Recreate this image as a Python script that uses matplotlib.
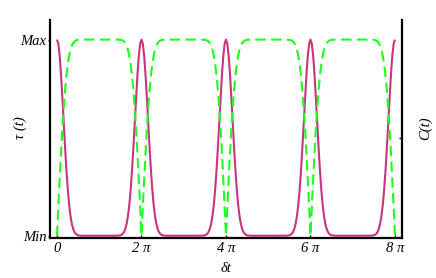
import numpy as np
import matplotlib
matplotlib.use("Agg")
import matplotlib.pyplot as plt

# Half-period profile (offset from a peak of tau, in radians)
offset = [0.0, 0.1, 0.2, 0.3, 0.4, 0.5, 0.6, 0.7, 0.8, 0.9, 1.0, 1.1, 1.2, 1.3,
          1.4, 1.5, 1.6, 1.8, 2.0, np.pi]
tau_profile = [1.0, 0.9785, 0.9166, 0.8216, 0.7045, 0.5772, 0.4516, 0.3368, 0.2391,
               0.1613, 0.1031, 0.0623, 0.0354, 0.0189, 0.0094, 0.0044, 0.0019,
               0.0003, 0.0, 0.0]
c_profile = [0.0, 0.1466, 0.2888, 0.4224, 0.5436, 0.6502, 0.7405, 0.8144, 0.8723,
             0.9158, 0.9471, 0.9684, 0.9821, 0.9905, 0.9953, 0.9978, 0.9990,
             0.9999, 1.0, 1.0]

# peak positions (multiples of 2 pi)
peaks = [0, 2 * np.pi, 4 * np.pi, 6 * np.pi, 8 * np.pi]
xtick_labels = ["0", "2 \u03c0", "4 \u03c0", "6 \u03c0", "8 \u03c0"]
ytick_values = [0, 1]
ytick_labels = ["Min", "Max"]

# build series over [0, 8 pi] by mirroring the read profile around each peak
off = np.array(offset)
tp = np.array(tau_profile)
cp = np.array(c_profile)
xs, ts, cs = [], [], []
for a, b in zip(peaks[:-1], peaks[1:]):
    xs.append(a + off); ts.append(tp); cs.append(cp)
    xs.append(b - off[::-1][1:]); ts.append(tp[::-1][1:]); cs.append(cp[::-1][1:])
x = np.concatenate(xs)
tau = np.concatenate(ts)
conc = np.concatenate(cs)

serif = ["Liberation Serif", "DejaVu Serif"]
fs = 10.5
fig = plt.figure(figsize=(4.36, 2.78), dpi=100)
ax = fig.add_axes([50 / 436, 1 - 237.7 / 278, (401.7 - 50) / 436, (237.7 - 20) / 278])

ax.plot(x, tau, color="#C9347F", lw=1.5, solid_capstyle="butt")
ax.plot(x, conc, color="#1EFF1E", lw=1.5, linestyle=(0, (5, 2.6)))

ax.set_xlim(-0.52, 8 * np.pi + 0.5)
ax.set_ylim(-0.01, 1.1)

for s in ["left", "right", "bottom"]:
    ax.spines[s].set_linewidth(1.6)
ax.spines["top"].set_visible(False)

ax.set_xticks(peaks)
ax.set_xticklabels(xtick_labels, fontfamily=serif, fontstyle="italic", fontsize=fs)
ax.set_yticks(ytick_values)
ax.set_yticklabels(ytick_labels, fontfamily=serif, fontstyle="italic", fontsize=fs)
ax.tick_params(axis="x", direction="in", length=2, width=1, pad=3)
ax.tick_params(axis="y", direction="out", length=1.5, width=1, pad=1)

ax2 = ax.twinx()
ax2.set_ylim(ax.get_ylim())
ax2.set_yticks([0.5])
ax2.set_yticklabels([""])
ax2.tick_params(axis="y", direction="in", length=2, width=1)
for s in ["left", "right", "bottom", "top"]:
    ax2.spines[s].set_visible(False)

fig.text(226 / 436, 1 - 268 / 278, "\u03b4t", ha="center", va="center",
         fontfamily=serif, fontstyle="italic", fontsize=fs)
fig.text(20 / 436, 1 - 128 / 278, "\u03c4 (t)", ha="center", va="center", rotation=90,
         fontfamily=serif, fontstyle="italic", fontsize=fs)
fig.text(425 / 436, 1 - 128 / 278, "C(t)", ha="center", va="center", rotation=90,
         fontfamily=serif, fontstyle="italic", fontsize=fs)

fig.savefig("out.png", dpi=100)
